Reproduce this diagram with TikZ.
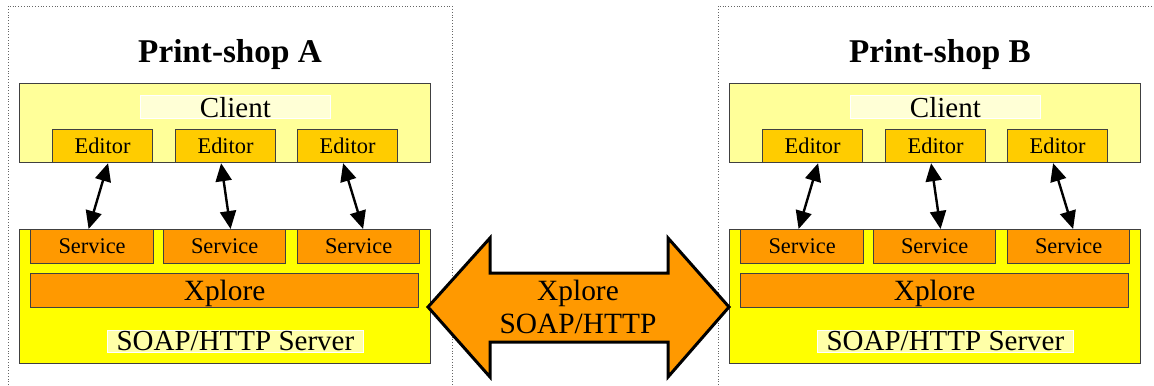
\documentclass[tikz,border=0pt]{standalone}
\usepackage{fontspec}
\setmainfont{Liberation Serif}
\usetikzlibrary{arrows.meta, calc}
\definecolor{ClientYellow}{HTML}{FFFF99}
\definecolor{EditorGold}{HTML}{FFCC00}
\definecolor{ServerYellow}{HTML}{FFFF00}
\definecolor{ServiceOrange}{HTML}{FF9900}
\definecolor{TagLight}{HTML}{FFFFD6}
\definecolor{TagServer}{HTML}{FFFFA8}

\begin{document}
\begin{tikzpicture}[x=0.5pt, y=-0.5pt,
    box/.style={rectangle, draw=black!75, line width=0.6pt, inner sep=0pt,
                anchor=north west},
    tag/.style={rectangle, draw=white, line width=0.4pt, inner sep=0pt,
                anchor=north west, font=\fontsize{14.5}{17}\selectfont},
    small/.style={font=\fontsize{11.2}{13}\selectfont},
    link/.style={{Triangle[length=9pt,width=8pt]}-{Triangle[length=9pt,width=8pt]},
                 line width=1.2pt},
    frame/.style={densely dotted, black!60, line width=0.4pt},
    bigarrow/.style={fill=ServiceOrange, draw=black, line width=1.5pt, line join=miter}
]
    \useasboundingbox (0,0) rectangle (1154,385);
    \draw[frame] (8,385) |- (452,6) -- (452,385);
    \draw[frame] (718,385) |- (1160,6);
    \foreach \o/\s in {0/A, 710/B} {
        \node[anchor=base, font=\fontsize{16.6}{20}\selectfont\bfseries] (title\s) at (230+\o,63) {Print-shop \s};
        % client side
        \node[box, fill=ClientYellow, minimum width=205.5pt, minimum height=39.5pt] (cl\s) at (19+\o,83) {};
        \node[tag, fill=TagLight, minimum width=95pt, text height=11pt, text depth=0.5pt] (cltag\s) at (140+\o,95) {Client};
        % server side
        \node[box, fill=ServerYellow, minimum width=205.5pt, minimum height=67pt] (srv\s) at (19+\o,229) {};
        \node[box, fill=ServiceOrange, minimum width=194pt, minimum height=17pt, text depth=0pt,
              font=\fontsize{14.7}{17}\selectfont] (xp\s) at (30+\o,273) {Xplore};
        \node[tag, fill=TagServer, minimum width=128pt, text height=10.2pt, text depth=0.8pt] (srvtag\s) at (107+\o,330) {SOAP/HTTP Server};
        \foreach \i/\ex/\ea/\sx/\sw/\sa in {1/52/5.5/30/61.5/-3.5, 2/175/-4.5/163/61/6, 3/297/-4.5/297/61/4.5} {
            \node[box, small, fill=EditorGold, minimum width=50pt, minimum height=16.5pt] (ed\s\i) at (\ex+\o,129) {Editor};
            \node[box, small, fill=ServiceOrange, minimum width=\sw pt, minimum height=17pt] (sv\s\i) at (\sx+\o,229) {Service};
            \draw[link] ($(ed\s\i.south)+(\ea,0)$) -- ($(sv\s\i.north)+(\sa,0)$);
        }
    }
    % link between the two print-shops
    \draw[bigarrow] (428,307) -- (490,238) -- (490,273) -- (668,273) -- (668,238) -- (729,307)
        -- (668,377) -- (668,342) -- (490,342) -- (490,377) -- cycle;
    \node[align=center, font=\fontsize{14.7}{16.5}\selectfont] (xlink) at (578,306.5) {Xplore\\SOAP/HTTP};
\end{tikzpicture}
\end{document}
